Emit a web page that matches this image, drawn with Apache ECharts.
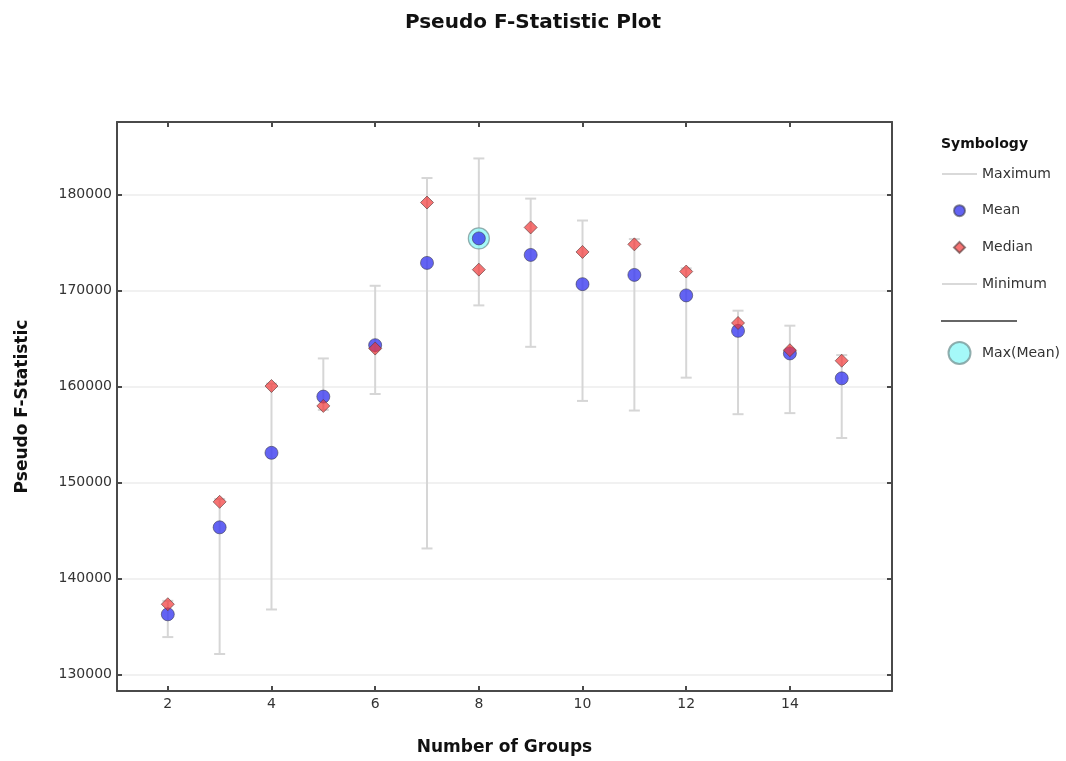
<!DOCTYPE html>
<html>
<head>
<meta charset="utf-8">
<script src="https://cdn.jsdelivr.net/npm/echarts@6/dist/echarts.min.js"></script>
<style>html,body{margin:0;padding:0;background:#fff}#chart{width:1066px;height:761px}</style>
</head>
<body>
<div id="chart"></div>
<script>
const groups = [2, 3, 4, 5, 6, 7, 8, 9, 10, 11, 12, 13, 14, 15];
const meanVals = [136300, 145350, 153100, 158950, 164300, 172860, 175410, 173690, 170650, 171610, 169480, 165790, 163440, 160850];
const medianVals = [137350, 148000, 160050, 157980, 163950, 179140, 172160, 176550, 174000, 174790, 171960, 166610, 163780, 162680];
const maxVals = [137700, 148300, 160300, 162920, 170480, 181690, 183730, 179550, 177270, 175340, 172300, 167890, 166330, 163270];
const minVals = [133930, 132170, 136800, 157570, 159220, 143150, 168440, 164130, 158500, 157500, 160920, 157120, 157230, 154640];
const xTicks = [2, 4, 6, 8, 10, 12, 14];
const yTicks = [130000, 140000, 150000, 160000, 170000, 180000];

const FONT = 'DejaVu Sans';
const chart = echarts.init(document.getElementById('chart'), null, {renderer: 'canvas'});

const maxMeanIdx = meanVals.indexOf(Math.max(...meanVals));

const axisLineStyle = {color: '#4a4a4a', width: 2};
const tickStyle = {color: '#4a4a4a', width: 2};
const hiddenSymbol = {opacity: 0, color: 'transparent', borderColor: 'transparent'};

const option = {
  backgroundColor: '#ffffff',
  animation: false,
  textStyle: {fontFamily: FONT},
  title: [
    {text: 'Pseudo F-Statistic Plot', left: 'center', top: 8,
     textStyle: {fontFamily: FONT, fontWeight: 'bold', fontSize: 20, color: '#111'}},
    {text: 'Symbology', left: 941, top: 137, padding: 0,
     textStyle: {fontFamily: FONT, fontWeight: 'bold', fontSize: 14, color: '#111'}}
  ],
  grid: {left: 117, right: 174, top: 122, bottom: 66, containLabel: false},
  legend: [
    {
      data: [
        {name: 'Maximum', lineStyle: {color: '#d9d9d9', width: 2, opacity: 1}, itemStyle: hiddenSymbol},
        {name: 'Mean'},
        {name: 'Median', icon: 'path://M6 0 L12 6 L6 12 L0 6 Z'},
        {name: 'Minimum', lineStyle: {color: '#d9d9d9', width: 2, opacity: 1}, itemStyle: hiddenSymbol}
      ],
      orient: 'vertical', left: 941, top: 167, padding: 0,
      itemWidth: 35, itemHeight: 11, itemGap: 22.7, symbolKeepAspect: true,
      selectedMode: false,
      textStyle: {fontFamily: FONT, fontSize: 14, color: '#333'}
    },
    {
      data: ['Max(Mean)'],
      orient: 'vertical', left: 947.5, top: 341, padding: 0,
      itemWidth: 35, itemHeight: 22, selectedMode: false,
      textStyle: {fontFamily: FONT, fontSize: 14, color: '#333'}
    }
  ],
  graphic: [
    {type: 'line', shape: {x1: 941, y1: 321, x2: 1017, y2: 321}, style: {stroke: '#666', lineWidth: 2}}
  ],
  xAxis: [
    {
      type: 'value', min: 1.02, max: 15.97, position: 'bottom',
      name: 'Number of Groups', nameLocation: 'middle', nameGap: 48,
      nameTextStyle: {fontFamily: FONT, fontWeight: 'bold', fontSize: 17, color: '#111'},
      axisLine: {show: true, onZero: false, lineStyle: axisLineStyle},
      axisTick: {show: true, inside: true, length: 5, lineStyle: tickStyle, customValues: xTicks},
      axisLabel: {show: true, margin: 6, fontFamily: FONT, fontSize: 14, color: '#333', customValues: xTicks},
      splitLine: {show: false}
    },
    {
      type: 'value', min: 1.02, max: 15.97, position: 'top',
      axisLine: {show: true, onZero: false, lineStyle: axisLineStyle},
      axisTick: {show: true, inside: true, length: 5, lineStyle: tickStyle, customValues: xTicks},
      axisLabel: {show: false},
      splitLine: {show: false}
    }
  ],
  yAxis: [
    {
      type: 'value', min: 128320, max: 187520, position: 'left',
      name: 'Pseudo F-Statistic', nameLocation: 'middle', nameGap: 86, nameRotate: 90,
      nameTextStyle: {fontFamily: FONT, fontWeight: 'bold', fontSize: 17, color: '#111'},
      axisLine: {show: true, onZero: false, lineStyle: axisLineStyle},
      axisTick: {show: true, inside: true, length: 5, lineStyle: tickStyle, customValues: yTicks},
      axisLabel: {show: true, margin: 5, fontFamily: FONT, fontSize: 14, color: '#333', customValues: yTicks,
                  formatter: function (v) { return String(v); }},
      splitLine: {show: true, lineStyle: {color: '#ececec', width: 1.5}}
    },
    {
      type: 'value', min: 128320, max: 187520, position: 'right',
      axisLine: {show: true, onZero: false, lineStyle: axisLineStyle},
      axisTick: {show: true, inside: true, length: 5, lineStyle: tickStyle, customValues: yTicks},
      axisLabel: {show: false},
      splitLine: {show: false}
    }
  ],
  series: [
    {
      name: 'Maximum', type: 'line', xAxisIndex: 0, yAxisIndex: 0,
      data: groups.map((g, i) => [g, maxVals[i]]),
      symbol: 'none', silent: true, lineStyle: {opacity: 0, color: '#d9d9d9'}, z: 1
    },
    {
      name: 'Minimum', type: 'line', xAxisIndex: 0, yAxisIndex: 0,
      data: groups.map((g, i) => [g, minVals[i]]),
      symbol: 'none', silent: true, lineStyle: {opacity: 0, color: '#d9d9d9'}, z: 1
    },
    {
      name: 'Range', type: 'custom', xAxisIndex: 0, yAxisIndex: 0, silent: true, z: 2,
      data: groups.map((g, i) => [g, minVals[i], maxVals[i]]),
      renderItem: function (params, api) {
        const x = api.value(0);
        const lo = api.coord([x, api.value(1)]);
        const hi = api.coord([x, api.value(2)]);
        const cap = 5.5;
        const st = {stroke: '#d6d6d6', lineWidth: 2};
        return {
          type: 'group',
          children: [
            {type: 'line', shape: {x1: lo[0], y1: lo[1], x2: hi[0], y2: hi[1]}, style: st},
            {type: 'line', shape: {x1: hi[0] - cap, y1: hi[1], x2: hi[0] + cap, y2: hi[1]}, style: st},
            {type: 'line', shape: {x1: lo[0] - cap, y1: lo[1], x2: lo[0] + cap, y2: lo[1]}, style: st}
          ]
        };
      }
    },
    {
      name: 'Max(Mean)', type: 'scatter', xAxisIndex: 0, yAxisIndex: 0, z: 3,
      data: [[groups[maxMeanIdx], meanVals[maxMeanIdx]]],
      symbol: 'circle', symbolSize: 21,
      itemStyle: {color: '#8ff8f8', borderColor: '#7a9a9a', borderWidth: 1.2}
    },
    {
      name: 'Mean', type: 'scatter', xAxisIndex: 0, yAxisIndex: 0, z: 4,
      data: groups.map((g, i) => [g, meanVals[i]]),
      symbol: 'circle', symbolSize: 13,
      itemStyle: {color: '#3c3cf0', borderColor: 'rgba(60,60,80,0.75)', borderWidth: 1}
    },
    {
      name: 'Median', type: 'scatter', xAxisIndex: 0, yAxisIndex: 0, z: 5,
      data: groups.map((g, i) => [g, medianVals[i]]),
      symbol: 'diamond', symbolSize: 13,
      itemStyle: {color: 'rgba(242,55,55,0.88)', borderColor: 'rgba(90,60,60,0.8)', borderWidth: 1}
    }
  ]
};
chart.setOption(option);
</script>
</body>
</html>
